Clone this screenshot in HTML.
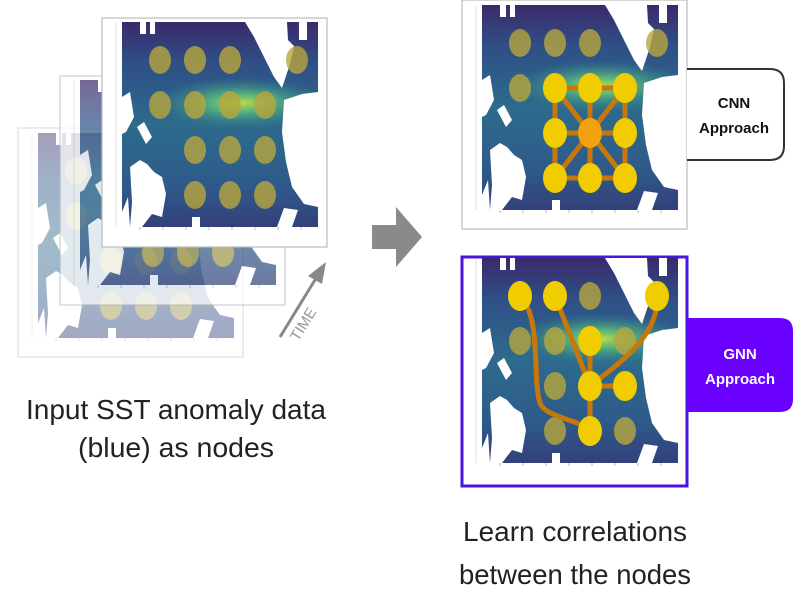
<!DOCTYPE html>
<html><head><meta charset="utf-8"><style>
html,body{margin:0;padding:0;background:#fff;width:800px;height:600px;overflow:hidden}
svg{display:block;font-family:"Liberation Sans",sans-serif}
</style></head><body>
<svg id="fig" width="800" height="600" viewBox="0 0 800 600">
<defs>
<linearGradient id="bgv" x1="0" y1="0" x2="0" y2="1">
<stop offset="0" stop-color="#3a2a6a"/><stop offset="0.2" stop-color="#2f4f86"/>
<stop offset="0.5" stop-color="#2d6b8c"/><stop offset="0.8" stop-color="#2e5a8a"/><stop offset="1" stop-color="#33407a"/></linearGradient>
<radialGradient id="band" cx="0.62" cy="0.5" r="0.5" gradientTransform="translate(0.05,0.27) scale(0.9,0.25)">
<stop offset="0" stop-color="#b8de4a"/><stop offset="0.35" stop-color="#5fbf7a" stop-opacity="0.85"/>
<stop offset="1" stop-color="#2f8a8a" stop-opacity="0"/></radialGradient>
</defs>
<g id="root"></g>
</svg>
<script>
const NS="http://www.w3.org/2000/svg";
const root=document.getElementById('root');
// node grid (map-relative units)
const colX=[38,73,108,143,175];
const rowY=[38,83,128,173];
// nodes per panel: [col,row]
const baseNodes=[[0,0],[1,0],[2,0],[4,0],[0,1],[1,1],[2,1],[3,1],[1,2],[2,2],[3,2],[1,3],[2,3],[3,3]];
const cnnActive=[[1,1],[2,1],[3,1],[1,2],[3,2],[1,3],[2,3],[3,3]];
const cnnCenter=[2,2];
const gnnActive=[[0,0],[1,0],[4,0],[2,1],[2,2],[3,2],[2,3]];
function el(t,a,p){const e=document.createElementNS(NS,t);for(const k in a)e.setAttribute(k,a[k]);(p||root).appendChild(e);return e;}
function panel(name,fx,fy,ox,oy,op,border){
  const g=el('g',{opacity:op});
  
  
  el('rect',{x:fx,y:fy,width:225,height:229,fill:'#fff',stroke:border||'#bbb','stroke-width':border?3:1.2},g);
  const m=el('g',{transform:`translate(${ox},${oy})`},g);
  el('rect',{x:0,y:0,width:196,height:205,fill:'url(#bgv)'},m);
  el('rect',{x:0,y:0,width:196,height:205,fill:'url(#band)'},m);
  const land=['M8,145 L18,138 L25,142 L32,150 L40,155 L44,172 L40,195 L30,192 L20,205 L8,205 L10,180 Z',
   'M15,105 L22,100 L30,115 L24,122 Z','M0,75 L8,70 L12,95 L4,110 L0,112Z','M0,190 L6,175 L8,205 L0,205Z',
   'M123,0 L165,0 L166,18 L172,24 L168,42 L160,66 L152,55 L142,35 L132,15Z',
   'M177,0 L185,0 L185,18 L177,18Z',
   'M162,78 L180,72 L196,70 L196,185 L182,182 L170,165 L164,140 L160,110Z','M18,0 L24,0 L24,12 L18,12Z','M28,0 L33,0 L33,12 L28,12Z',
   'M155,205 L170,205 L176,188 L162,186Z','M70,195 L78,195 L78,205 L70,205Z'];
  land.forEach(d=>el('path',{d:d,fill:'#fff'},m));
  for(let i=0;i<8;i++){el('line',{x1:18+i*23,y1:205,x2:18+i*23,y2:208,stroke:'#888','stroke-width':0.6},m);}
  el('line',{x1:-6,y1:0,x2:-6,y2:205,stroke:'#ccc','stroke-width':0.6},m);
  return {g,m};
}
function dimNodes(m,skip){
  baseNodes.forEach(n=>{
    if(skip&&skip.some(s=>s[0]==n[0]&&s[1]==n[1]))return;
    const e=el('ellipse',{cx:colX[n[0]],cy:rowY[n[1]],rx:11,ry:14,fill:'#b8a63c','fill-opacity':0.8},m);
    
    
  });
}
// stacked input panels
const p3=panel('input-map-t1',18,128,38,133,0.45);dimNodes(p3.m);
const p2=panel('input-map-t2',60,76,80,80,0.7);dimNodes(p2.m);
const p1=panel('input-map-t3',102,18,122,22,1);dimNodes(p1.m);
// time arrow
const ta=el('g',{});


el('line',{x1:280,y1:337,x2:318,y2:275,stroke:'#888','stroke-width':3},ta);
el('path',{d:'M326,262 L322,284 L308,276Z',fill:'#888'},ta);
const tt=el('text',{x:0,y:0,'font-size':15,fill:'#999',transform:'translate(298,342) rotate(-58)'},ta);tt.textContent='TIME';
// big arrow
const ba=el('path',{d:'M372,225 L396,225 L396,207 L422,237 L396,267 L396,249 L372,249Z',fill:'#8a8a8a'});


// captions
function txt(s,x,y,size,name,fill,weight,len){const a={x:x,y:y,'font-size':size,'text-anchor':'middle',fill:fill||'#222','font-weight':weight||'normal'};if(len){a.textLength=len;a.lengthAdjust='spacingAndGlyphs';}const t=el('text',a);t.textContent=s;return t;}
txt('Input SST anomaly data',176,419,28,'input-caption-line1',null,null,300);
txt('(blue) as nodes',176,457,28,'input-caption-line2',null,null,196);
txt('Learn correlations',575,541,28,'output-caption-line1',null,null,224);
txt('between the nodes',575,584,28,'output-caption-line2',null,null,232);
// CNN panel
const pc=panel('cnn-map',462,0,482,5,1);
dimNodes(pc.m,cnnActive.concat([cnnCenter]));
const ec='#c8780a';
function edge(m,a,b){el('line',{x1:colX[a[0]],y1:rowY[a[1]],x2:colX[b[0]],y2:rowY[b[1]],stroke:ec,'stroke-width':5},m);}
cnnActive.forEach(n=>edge(pc.m,cnnCenter,n));
[[[1,1],[2,1]],[[2,1],[3,1]],[[1,3],[2,3]],[[2,3],[3,3]],[[1,1],[1,2]],[[1,2],[1,3]],[[3,1],[3,2]],[[3,2],[3,3]]].forEach(p=>edge(pc.m,p[0],p[1]));
cnnActive.forEach(n=>el('ellipse',{cx:colX[n[0]],cy:rowY[n[1]],rx:12,ry:15,fill:'#f0cc00'},pc.m));
el('ellipse',{cx:colX[cnnCenter[0]],cy:rowY[cnnCenter[1]],rx:12,ry:15,fill:'#f2a20c'},pc.m);
// CNN label box
const cb=el('g',{});
el('path',{d:'M687,69 L770,69 Q784,69 784,83 L784,146 Q784,160 770,160 L687,160',fill:'#fff',stroke:'#333','stroke-width':2},cb);
txt('CNN',734,108,15,'cnn-label-line1','#111','bold');
txt('Approach',734,133,15,'cnn-label-line2','#111','bold');
// GNN panel
const pg=panel('gnn-map',462,257,482,258,1,'#4a14e0');
dimNodes(pg.m,gnnActive);
function P(c){return colX[c[0]]+','+rowY[c[1]];}
el('path',{d:`M${P([0,0])} C60,60 50,120 58,145 C64,160 95,160 ${P([2,3])}`,fill:'none',stroke:ec,'stroke-width':5},pg.m);
el('path',{d:`M${P([4,0])} C178,80 130,110 ${P([2,2])}`,fill:'none',stroke:ec,'stroke-width':5},pg.m);
edge(pg.m,[1,0],[2,2]);edge(pg.m,[2,1],[2,2]);edge(pg.m,[2,2],[3,2]);edge(pg.m,[2,2],[2,3]);
gnnActive.forEach(n=>el('ellipse',{cx:colX[n[0]],cy:rowY[n[1]],rx:12,ry:15,fill:'#f0cc00'},pg.m));
const gb=el('g',{});
el('path',{d:'M687,318 L780,318 Q793,318 793,331 L793,399 Q793,412 780,412 L687,412Z',fill:'#6a00ff'},gb);
txt('GNN',740,359,15,'gnn-label-line1','#fff','bold');
txt('Approach',740,384,15,'gnn-label-line2','#fff','bold');
</script>
</body></html>
